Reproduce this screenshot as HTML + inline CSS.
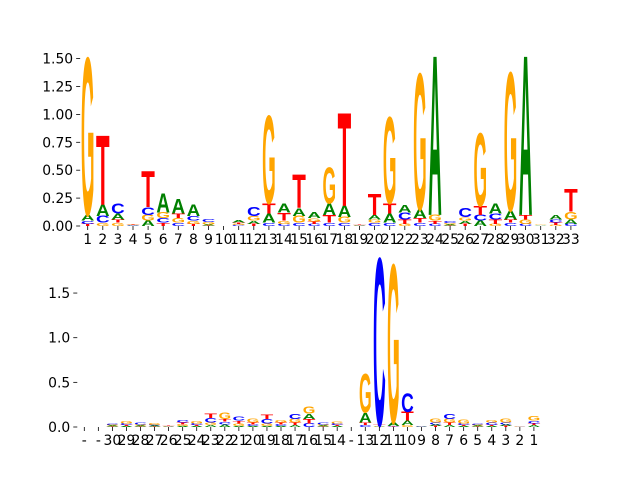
<!DOCTYPE html>
<html><head><meta charset="utf-8"><style>
body{margin:0;background:#fff;width:640px;height:480px;overflow:hidden}
svg{display:block}
text{font-family:"DejaVu Sans","Liberation Sans",sans-serif}
</style></head><body>
<svg id="chart" width="640" height="480" viewBox="0 0 640 480" xmlns="http://www.w3.org/2000/svg">
<g id="top"></g>
<g id="bot"></g>
</svg>
<script>
// Top panel data (bits per letter per position)
const topLabels = ["1","2","3","4","5","6","7","8","9","10","11","12","13","14","15","16","17","18","19","20","21","22","23","24","25","26","27","28","29","30","31","32","33"];
const topA = [0.05,0.10,0.05,0.005,0.05,0.17,0.13,0.10,0.01,0.002,0.02,0.03,0.08,0.08,0.07,0.05,0.10,0.10,0.003,0.04,0.08,0.07,0.08,1.42,0.01,0.03,0.05,0.09,0.08,1.42,0.003,0.04,0.04];
const topC = [0.03,0.06,0.09,0.005,0.07,0.04,0.03,0.04,0.03,0.002,0.01,0.08,0.03,0.02,0.03,0.02,0.03,0.03,0.003,0.03,0.03,0.06,0.03,0.02,0.015,0.08,0.05,0.05,0.03,0.02,0.002,0.03,0.02];
const topG = [1.40,0.03,0.03,0.005,0.05,0.05,0.04,0.03,0.02,0.002,0.01,0.04,0.78,0.03,0.06,0.03,0.32,0.05,0.003,0.03,0.77,0.02,1.21,0.05,0.01,0.03,0.65,0.02,1.23,0.04,0.003,0.01,0.07];
const topT = [0.02,0.62,0.03,0.005,0.32,0.03,0.04,0.02,0.005,0.002,0.01,0.02,0.09,0.07,0.30,0.02,0.07,0.83,0.003,0.19,0.09,0.04,0.04,0.03,0.005,0.02,0.08,0.04,0.03,0.04,0.002,0.02,0.20];
const topTicks = [0,0.25,0.5,0.75,1.0,1.25,1.5];
const topTickLabels = ["0.00","0.25","0.50","0.75","1.00","1.25","1.50"];

// Bottom panel data
const botLabels = ["-","-","30","29","28","27","26","25","24","23","22","21","20","19","18","17","16","15","14","-","13","12","11","10","9","8","7","6","5","4","3","2","1"];
const botA = [0,0,0.01,0.01,0.01,0.01,0.004,0.01,0.01,0.02,0.03,0.01,0.01,0.01,0.01,0.02,0.06,0.01,0.01,0,0.11,0.005,0.04,0.05,0.003,0.02,0.02,0.01,0.01,0.01,0.02,0.002,0.02];
const botC = [0,0,0.015,0.02,0.02,0.01,0.004,0.03,0.02,0.05,0.03,0.04,0.02,0.05,0.02,0.06,0.04,0.02,0.02,0,0.02,1.86,0.005,0.21,0.004,0.02,0.06,0.02,0.015,0.03,0.02,0.003,0.03];
const botG = [0,0,0.01,0.03,0.015,0.02,0.005,0.02,0.03,0.03,0.07,0.03,0.04,0.03,0.03,0.04,0.08,0.015,0.02,0,0.43,0.005,1.76,0.02,0.003,0.04,0.04,0.04,0.01,0.03,0.04,0.003,0.05];
const botT = [0,0,0.005,0.01,0.005,0.005,0.007,0.02,0.01,0.05,0.03,0.03,0.02,0.05,0.02,0.03,0.05,0.005,0.01,0,0.03,0.01,0.005,0.10,0.002,0.01,0.03,0.01,0.005,0.01,0.01,0.002,0.02];
const botTicks = [0,0.5,1.0,1.5];
const botTickLabels = ["0.0","0.5","1.0","1.5"];

const NS = "http://www.w3.org/2000/svg";
const COLORS = {A:"#008000",C:"#0000ff",G:"#ffa500",T:"#ff0000"};

function mk(tag, attrs, parent){
  const e = document.createElementNS(NS, tag);
  for (const k in attrs) e.setAttribute(k, attrs[k]);
  parent.appendChild(e);
  return e;
}

function drawPanel(g, cfg){
  const {labels, A, C, G, T, ticks, tickLabels, x0, dx, y0, pxPerUnit} = cfg;
  const xs = i => x0 + i*dx;
  const ys = v => y0 - v*pxPerUnit;
  const w = dx*0.9;
  for (let i=0;i<labels.length;i++){
    const col = [["A",A[i]],["C",C[i]],["G",G[i]],["T",T[i]]].sort((a,b)=>a[1]-b[1]);
    let base = 0;
    for (const [L,h] of col){
      if (h <= 0) continue;
      const hp = h*pxPerUnit;
      const t = mk("text",{x:0,y:0,"font-size":100,"textLength":72,"lengthAdjust":"spacingAndGlyphs",
        fill:COLORS[L],"font-weight":"bold",
        transform:`translate(${xs(i)-w/2},${ys(base)}) scale(${w/72},${hp/69})`}, g);
      t.style.fontFamily='"Liberation Sans",sans-serif';
      t.textContent = L;
      
      
      base += h;
    }
    const tk = mk("line",{x1:xs(i),x2:xs(i),y1:y0,y2:y0+4,stroke:"#000","stroke-width":0.8}, g);
    
    
    const lb = mk("text",{x:xs(i),y:y0+18,"font-size":13.9,"text-anchor":"middle",fill:"#000"}, g);
    lb.textContent = labels[i];
    
    
  }
  const axX = x0 - dx/2;
  for (let j=0;j<ticks.length;j++){
    const y = ys(ticks[j]);
    const tk = mk("line",{x1:axX-4,x2:axX,y1:y,y2:y,stroke:"#000","stroke-width":0.8}, g);
    
    
    const lb = mk("text",{x:axX-7,y:y+5,"font-size":13.9,"text-anchor":"end",fill:"#000"}, g);
    lb.textContent = tickLabels[j];
    
    
  }
}

drawPanel(document.getElementById("top"), {labels:topLabels,A:topA,C:topC,G:topG,T:topT,
  ticks:topTicks,tickLabels:topTickLabels,x0:87.7,dx:15.1,y0:226,pxPerUnit:111.6});
drawPanel(document.getElementById("bot"), {labels:botLabels,A:botA,C:botC,G:botG,T:botT,
  ticks:botTicks,tickLabels:botTickLabels,x0:84.3,dx:14.05,y0:427,pxPerUnit:89.3});
</script>
</body></html>
